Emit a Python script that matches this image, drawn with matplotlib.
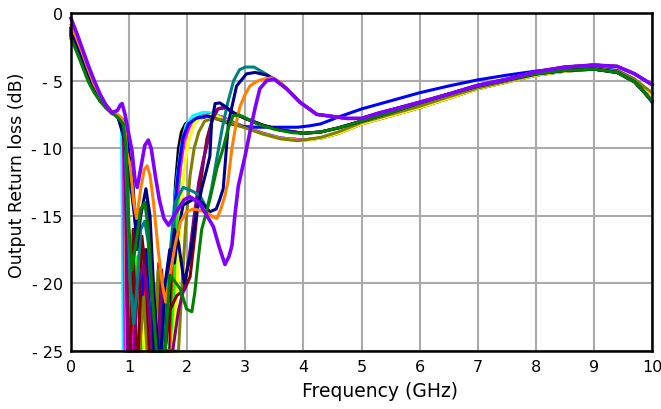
import matplotlib
matplotlib.use("Agg")
import matplotlib.pyplot as plt

# Output return loss sweeps, (frequency GHz, dB) pairs
TAIL_OLIVE = [(4.3, -9.2), (4.6, -8.8), (5.0, -8.1), (5.5, -7.5), (6.0, -6.9), (6.5, -6.2),
              (7.0, -5.55), (7.5, -5.05), (8.0, -4.55), (8.5, -4.25), (9.0, -4.1),
              (9.4, -4.3), (9.7, -4.9), (10.0, -5.9)]
TAIL_LOW = [(4.3, -9.25), (4.6, -8.9), (5.0, -8.2), (5.5, -7.6), (6.0, -7.0), (6.5, -6.3),
            (7.0, -5.6), (7.5, -5.1), (8.0, -4.6), (8.5, -4.3), (9.0, -4.15),
            (9.4, -4.35), (9.7, -5.0), (10.0, -6.0)]
TAIL_GREEN = [(4.3, -8.8), (4.6, -8.5), (5.0, -8.0), (5.5, -7.35), (6.0, -6.65), (6.5, -6.0),
              (7.0, -5.4), (7.5, -4.95), (8.0, -4.5), (8.5, -4.25), (9.0, -4.15),
              (9.4, -4.4), (9.7, -5.1), (10.0, -6.5)]
TAIL_BLUE = [(4.1, -8.35), (4.3, -8.2), (4.6, -7.7), (5.0, -7.1), (5.5, -6.5), (6.0, -5.9),
             (6.5, -5.4), (7.0, -4.95), (7.5, -4.6), (8.0, -4.3), (8.5, -4.1), (9.0, -4.05),
             (9.4, -4.25), (9.7, -4.9), (10.0, -6.6)]
TAIL_VIOLET = [(3.71, -5.6), (3.94, -6.6), (4.23, -7.5), (4.5, -7.65), (4.75, -7.8),
               (5.0, -7.8), (5.3, -7.4), (5.66, -7.0), (6.0, -6.6), (6.5, -6.0), (7.0, -5.35),
               (7.5, -4.9), (8.0, -4.35), (8.5, -4.0), (9.0, -3.85), (9.4, -3.95),
               (9.7, -4.5), (10.0, -5.3)]

black = [(0, -1.5), (0.1, -2.5), (0.2, -3.6), (0.3, -4.7), (0.4, -5.6), (0.5, -6.4),
         (0.6, -6.9), (0.7, -7.3), (0.8, -7.6), (0.9, -8.0), (0.95, -10), (0.99, -25),
         (1.06, -25), (1.12, -20), (1.17, -25), (1.23, -25), (1.3, -17.5), (1.36, -21),
         (1.42, -25), (1.5, -25), (1.56, -21), (1.62, -25), (1.7, -25),
         (1.75, -17), (1.8, -12.5), (1.85, -10.0), (1.9, -8.8), (1.97, -8.2), (2.05, -8.0),
         (2.2, -7.8), (2.4, -7.6), (2.6, -7.8), (2.8, -8.15), (3.0, -8.45), (3.3, -8.9),
         (3.6, -9.25), (4.0, -9.4)] + TAIL_LOW
red = [(0, -1.4), (0.1, -2.4), (0.2, -3.5), (0.3, -4.6), (0.4, -5.6), (0.5, -6.3),
       (0.6, -6.9), (0.7, -7.3), (0.8, -7.6), (0.92, -8.3), (0.97, -25), (1.04, -25),
       (1.1, -22), (1.16, -25), (1.21, -25), (1.28, -19), (1.34, -25), (1.45, -25),
       (1.51, -18.5), (1.57, -25), (1.72, -25), (1.78, -17), (1.84, -12),
       (1.9, -9.6), (1.97, -8.5), (2.05, -8.0), (2.2, -7.7), (2.4, -7.5), (2.6, -7.7),
       (2.8, -8.1), (3.0, -8.45), (3.3, -8.9), (3.6, -9.25), (4.0, -9.4)] + TAIL_LOW
lime = [(0, -1.8), (0.1, -2.8), (0.2, -3.9), (0.3, -5.0), (0.4, -5.8), (0.5, -6.5),
        (0.6, -7.0), (0.7, -7.4), (0.8, -7.6), (0.93, -8.5), (0.98, -25), (1.08, -25),
        (1.15, -18), (1.21, -25), (1.24, -25), (1.28, -21), (1.33, -25), (1.4, -25),
        (1.46, -20), (1.52, -25), (1.74, -25), (1.8, -17.5), (1.87, -12), (1.93, -9.5),
        (2.0, -8.4), (2.1, -7.9), (2.25, -7.6), (2.45, -7.5), (2.6, -7.7), (2.8, -8.1),
        (3.0, -8.45), (3.3, -8.9), (3.6, -9.25), (4.0, -9.4)] + TAIL_LOW
cyan = [(0, -1.6), (0.1, -2.6), (0.2, -3.7), (0.3, -4.8), (0.4, -5.7), (0.5, -6.4),
        (0.6, -6.9), (0.7, -7.3), (0.8, -7.7), (0.87, -8.2), (0.9, -25), (1.3, -25),
        (1.35, -22), (1.4, -25), (1.58, -25),
        (1.66, -20), (1.75, -15.5), (1.83, -12), (1.9, -9.8), (1.98, -8.3), (2.1, -7.6),
        (2.27, -7.35), (2.45, -7.4), (2.6, -7.7), (2.8, -8.1), (3.0, -8.45), (3.3, -8.9),
        (3.6, -9.25), (4.0, -9.4)] + TAIL_LOW
magenta = [(0, -1.3), (0.1, -2.3), (0.2, -3.4), (0.3, -4.5), (0.4, -5.5), (0.5, -6.3),
           (0.6, -6.9), (0.7, -7.3), (0.8, -7.7), (0.9, -8.5), (0.93, -25), (1.05, -25),
           (1.12, -22), (1.19, -25), (1.32, -25), (1.38, -20), (1.44, -25), (1.62, -25),
           (1.7, -19), (1.8, -14.5), (1.88, -11.5),
           (1.95, -9.4), (2.05, -8.3), (2.2, -7.7), (2.4, -7.5), (2.6, -7.7), (2.8, -8.1),
           (3.0, -8.45), (3.3, -8.9), (3.6, -9.25), (4.0, -9.4)] + TAIL_LOW
yellow = [(0, -1.2), (0.1, -2.2), (0.2, -3.3), (0.3, -4.4), (0.4, -5.4), (0.5, -6.2),
          (0.6, -6.8), (0.7, -7.3), (0.8, -7.6), (0.93, -8.6), (0.96, -25), (1.14, -25),
          (1.2, -19), (1.26, -25), (1.4, -25), (1.46, -22), (1.52, -25), (1.75, -25),
          (1.82, -21), (1.88, -15), (1.95, -11.5), (2.02, -9.5), (2.12, -8.2), (2.25, -7.7),
          (2.45, -7.5), (2.6, -7.8), (2.8, -8.2), (3.0, -8.5), (3.3, -8.95), (3.6, -9.3),
          (4.0, -9.45)] + TAIL_LOW
blue = [(0, -1.5), (0.1, -2.5), (0.2, -3.6), (0.3, -4.7), (0.4, -5.6), (0.5, -6.4),
        (0.6, -6.9), (0.7, -7.3), (0.8, -7.6), (0.92, -8.4), (0.97, -14), (1.02, -25),
        (1.18, -25), (1.27, -17.5), (1.35, -20), (1.45, -25), (1.6, -25), (1.68, -20),
        (1.77, -15), (1.85, -11.5), (1.93, -9.2), (2.02, -8.2), (2.15, -7.8), (2.35, -7.6),
        (2.55, -7.9), (2.75, -8.2), (2.95, -8.4), (3.2, -8.45), (3.6, -8.45),
        (3.9, -8.45)] + TAIL_BLUE
olive = [(0, -1.4), (0.1, -2.4), (0.2, -3.5), (0.3, -4.6), (0.4, -5.6), (0.5, -6.4),
         (0.6, -6.9), (0.7, -7.3), (0.8, -7.6), (0.95, -9.0), (1.0, -25), (1.18, -25),
         (1.25, -21), (1.31, -25), (1.44, -25), (1.5, -19), (1.56, -25), (1.85, -25),
         (1.9, -21), (1.97, -16), (2.05, -12), (2.12, -10), (2.2, -8.8), (2.3, -8.0),
         (2.45, -7.8), (2.6, -7.9), (2.8, -8.2), (3.0, -8.5), (3.3, -8.95), (3.6, -9.3),
         (3.9, -9.45), (4.0, -9.4)] + TAIL_OLIVE
maroon = [(0, -1.7), (0.1, -2.7), (0.2, -3.8), (0.3, -4.9), (0.4, -5.8), (0.5, -6.5),
          (0.6, -7.0), (0.7, -7.4), (0.8, -7.6), (0.9, -8.0), (0.95, -15), (0.98, -25),
          (1.02, -25), (1.07, -16), (1.12, -25), (1.16, -25), (1.22, -16.5), (1.28, -19),
          (1.35, -25), (1.5, -25), (1.56, -19), (1.62, -25), (1.7, -22), (1.82, -20.9),
          (1.95, -20.5), (2.05, -19.5), (2.13, -16.5),
          (2.2, -13.5), (2.28, -11), (2.34, -9.3), (2.43, -7.9), (2.53, -7.1), (2.65, -7.0),
          (2.8, -7.4), (3.0, -7.8), (3.3, -8.3), (3.6, -8.65), (4.0, -8.9)] + TAIL_GREEN
purple = [(0, -1.6), (0.1, -2.6), (0.2, -3.7), (0.3, -4.8), (0.4, -5.7), (0.5, -6.4),
          (0.6, -6.9), (0.7, -7.3), (0.8, -7.6), (0.93, -8.8), (0.97, -25), (1.08, -25),
          (1.15, -20), (1.25, -18.7), (1.32, -21), (1.4, -25), (1.5, -25), (1.57, -20),
          (1.63, -25), (1.75, -25), (1.85, -22),
          (1.95, -20.3), (2.05, -17.5), (2.12, -15), (2.2, -12.5), (2.28, -10.8),
          (2.34, -9.8), (2.4, -8.5), (2.45, -7.6), (2.52, -7.1), (2.6, -7.0), (2.7, -7.1),
          (2.85, -7.5), (3.0, -7.8), (3.3, -8.3), (3.6, -8.65), (4.0, -8.9)] + TAIL_GREEN
teal = [(0, -1.2), (0.1, -2.2), (0.2, -3.3), (0.3, -4.4), (0.4, -5.4), (0.5, -6.2),
        (0.6, -6.8), (0.7, -7.3), (0.8, -7.6), (0.92, -8.5), (0.97, -14), (1.02, -20),
        (1.08, -23), (1.13, -20.6), (1.2, -16), (1.27, -15.4), (1.33, -17), (1.4, -22),
        (1.45, -25), (1.6, -25), (1.7, -18), (1.8, -14), (1.93, -12.9), (2.1, -13.2),
        (2.22, -13.5), (2.34, -14.5), (2.42, -13), (2.5, -11), (2.6, -8.6), (2.7, -6.6),
        (2.8, -5.0), (2.9, -4.2), (3.0, -4.0), (3.15, -4.0), (3.35, -4.5),
        (3.5, -4.9)] + TAIL_VIOLET
navy = [(0, -1.3), (0.1, -2.3), (0.2, -3.4), (0.3, -4.5), (0.4, -5.5), (0.5, -6.3),
        (0.6, -6.9), (0.7, -7.3), (0.8, -7.6), (0.93, -8.0), (1.0, -10.5), (1.07, -12.8),
        (1.13, -17.5), (1.2, -15), (1.29, -13.0), (1.36, -15), (1.43, -21), (1.5, -25),
        (1.62, -25), (1.7, -19), (1.78, -16), (1.85, -17), (1.95, -20), (2.05, -18),
        (2.15, -15), (2.25, -13), (2.34, -11.5), (2.39, -10.6), (2.42, -8.1), (2.48, -6.7),
        (2.56, -6.65), (2.65, -6.9), (2.8, -7.4), (3.0, -7.8), (3.3, -8.3), (3.6, -8.65),
        (4.0, -8.9)] + TAIL_GREEN
navy_dark = [(0, -1.1), (0.1, -2.1), (0.2, -3.2), (0.3, -4.3), (0.4, -5.4), (0.5, -6.2),
             (0.6, -6.8), (0.7, -7.3), (0.8, -7.6), (0.93, -9.5), (0.98, -11.5),
             (1.05, -13.5), (1.12, -16), (1.2, -14.5), (1.3, -14), (1.37, -17), (1.43, -25),
             (1.55, -25), (1.62, -20), (1.7, -17.5), (1.78, -18.5), (1.85, -16),
             (1.93, -14.2), (2.1, -13.8), (2.25, -14.0), (2.39, -14.7), (2.5, -14.5),
             (2.56, -13.8), (2.62, -13), (2.71, -8.1), (2.85, -5.4), (3.02, -4.5),
             (3.17, -4.4), (3.37, -4.6), (3.5, -4.9)] + TAIL_VIOLET
orange = [(0, -0.9), (0.1, -1.9), (0.2, -3.0), (0.3, -4.2), (0.4, -5.3), (0.5, -6.1),
          (0.6, -6.8), (0.7, -7.3), (0.8, -7.5), (0.88, -7.8), (0.93, -8.5), (0.96, -10.3),
          (1.02, -11.3), (1.08, -14), (1.13, -15.2), (1.2, -13), (1.26, -11.6),
          (1.31, -11.3), (1.36, -12), (1.42, -14), (1.5, -17.5), (1.57, -20), (1.63, -21.4),
          (1.7, -19.5), (1.79, -17.2), (1.88, -15.5), (1.99, -14.7), (2.1, -14.5),
          (2.22, -14.6), (2.35, -14.8), (2.45, -15.1), (2.51, -15.2), (2.58, -14.5),
          (2.65, -13.5), (2.7, -12.5), (2.77, -10), (2.85, -8.0), (2.91, -6.9), (3.0, -6.0),
          (3.08, -5.4), (3.2, -5.05), (3.3, -4.9), (3.45, -4.8), (3.6, -5.1)] + TAIL_VIOLET
green = [(0, -1.9), (0.1, -2.9), (0.2, -4.0), (0.3, -5.1), (0.4, -5.9), (0.5, -6.5),
         (0.6, -7.0), (0.7, -7.4), (0.8, -7.7), (0.9, -8.2), (0.95, -10), (1.0, -16),
         (1.05, -19), (1.12, -17), (1.2, -14.5), (1.27, -14.0), (1.33, -16), (1.4, -21),
         (1.47, -25), (1.62, -25), (1.7, -19.4), (1.76, -19.7), (1.88, -20.4),
         (1.99, -21.9), (2.08, -22.1), (2.13, -20.7), (2.19, -18.2), (2.25, -16.0),
         (2.39, -13.8), (2.51, -11.5), (2.62, -10), (2.7, -8.6), (2.79, -7.6), (2.9, -7.55),
         (3.0, -7.75), (3.2, -8.2), (3.5, -8.6), (3.8, -8.85), (4.0, -8.9)] + TAIL_GREEN
violet = [(0, -0.4), (0.1, -1.5), (0.2, -2.7), (0.3, -3.9), (0.4, -5.0), (0.5, -6.0),
          (0.6, -6.8), (0.7, -7.4), (0.8, -7.2), (0.85, -6.8), (0.88, -6.7), (0.93, -7.5),
          (1.0, -9.1), (1.05, -10.2), (1.1, -12.3), (1.14, -12.9), (1.2, -11.5),
          (1.27, -9.8), (1.33, -9.4), (1.38, -10.0), (1.45, -12.0), (1.52, -13.8),
          (1.6, -15.2), (1.68, -15.7), (1.8, -14.8), (1.95, -13.8), (2.05, -13.6),
          (2.2, -14.0), (2.34, -15.0), (2.45, -15.8), (2.55, -17.3), (2.65, -18.6),
          (2.72, -18.0), (2.77, -17.2), (2.82, -15), (2.88, -12.8), (3.0, -10.5),
          (3.08, -8.8), (3.17, -7.0), (3.25, -5.6), (3.37, -5.0), (3.5, -4.9)] + TAIL_VIOLET

series = [
    (black, "#000000"), (red, "#FF0000"), (lime, "#00FF00"), (cyan, "#00FFFF"),
    (magenta, "#FF00FF"), (yellow, "#FFFF00"), (blue, "#0000FF"), (olive, "#808000"),
    (maroon, "#800000"), (purple, "#800080"), (teal, "#008080"), (navy, "#000080"),
    (navy_dark, "#00008B"), (orange, "#FF8000"), (green, "#008000"), (violet, "#8000FF"),
]

x_ticks = list(range(0, 11))
y_ticks = [-25, -20, -15, -10, -5, 0]
y_tick_labels = ["- 25", "- 20", "- 15", "- 10", "- 5", "0"]

fig = plt.figure(figsize=(6.61, 4.10), dpi=100)
ax = fig.add_axes([0.1074, 0.1415, 0.879, 0.8244])

for pts, color in series:
    fx = [p[0] for p in pts]
    db = [p[1] for p in pts]
    lw = 2.6 if color == "#8000FF" else 2.2
    ax.plot(fx, db, color=color, lw=lw, solid_joinstyle="round", clip_on=False, zorder=2)

ax.set_xlim(0, 10)
ax.set_ylim(-25, 0)
ax.set_xticks(x_ticks)
ax.set_xticklabels([str(t) for t in x_ticks])
ax.set_yticks(y_ticks)
ax.set_yticklabels(y_tick_labels)
ax.tick_params(length=0, labelsize=11.5, pad=6)
ax.grid(True, color="#AAAAAA", lw=1.5, zorder=0)
ax.set_axisbelow(True)
for side in ("left", "bottom", "top", "right"):
    ax.spines[side].set_color("black")
    ax.spines[side].set_linewidth(1.8)
    ax.spines[side].set_zorder(5)

fig.text(380 / 661, 1 - 392 / 410, "Frequency (GHz)", ha="center", va="center", fontsize=13.5)
fig.text(17 / 661, 1 - 175 / 410, "Output Return loss (dB)", ha="center", va="center",
         rotation=90, fontsize=12.5)

fig.savefig("out.png", dpi=100)
